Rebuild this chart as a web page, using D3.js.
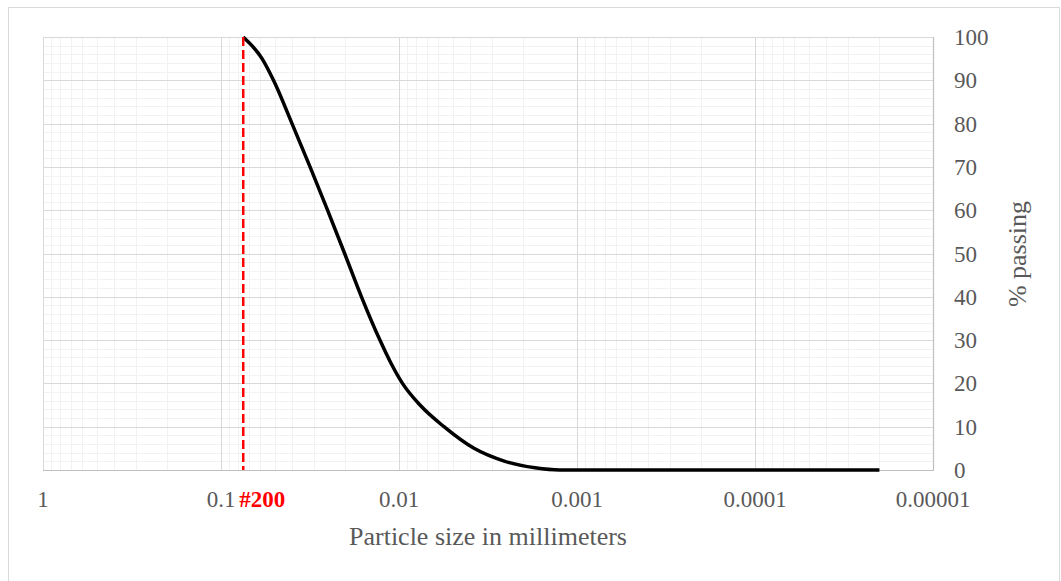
<!DOCTYPE html>
<html>
<head>
<meta charset="utf-8">
<script src="https://cdn.jsdelivr.net/npm/d3@7"></script>
<style>
  html, body { margin: 0; padding: 0; background: #fff; }
  svg { display: block; }
  text { font-family: "Liberation Serif", "Times New Roman", serif; }
</style>
</head>
<body>
<svg id="chart" width="1061" height="581"></svg>
<script>
// Grain-size distribution: particle size (mm) vs. percent passing
const sizes   = [0.075, 0.0588, 0.0507, 0.0399, 0.0316, 0.0252, 0.0202, 0.01625, 0.0128, 0.0112, 0.00956, 0.00762, 0.00559, 0.00379, 0.00254, 0.00172, 0.00125, 0.00002];
const passing = [100,   95,     90,     80,     70,     60,     50,     40,      30,     25,     20,      15,      10,      5,       2,       0.5,     0,       0];

// #200 sieve opening (mm)
const sieveSize = 0.075;
const sieveLabel = "#200";

const xTickValues = [1, 0.1, 0.01, 0.001, 0.0001, 0.00001];
const xTickLabels = ["1", "0.1", "0.01", "0.001", "0.0001", "0.00001"];
const yTickValues = [0, 10, 20, 30, 40, 50, 60, 70, 80, 90, 100];

const xTitle = "Particle size in millimeters";
const yTitle = "% passing";

const svg = d3.select("#chart");
const plot = { left: 43, right: 933, top: 37, bottom: 470 };

// chart frame
svg.append("rect")
  .attr("x", 8.5).attr("y", 7.5)
  .attr("width", 1051).attr("height", 600)
  .attr("fill", "#fff").attr("stroke", "#d9d9d9").attr("stroke-width", 1);

// reversed log scale: coarse on the left, fine on the right
const x = d3.scaleLog().domain([1, 0.00001]).range([plot.left, plot.right]);
const y = d3.scaleLinear().domain([0, 100]).range([plot.bottom, plot.top]);

const grid = svg.append("g");

// minor vertical gridlines (2..9 within each decade)
const minorX = [];
for (let e = 0; e > -5; e--) {
  for (let k = 2; k <= 9; k++) minorX.push(k * Math.pow(10, e - 1));
}
grid.selectAll(".vminor").data(minorX).join("line")
  .attr("x1", d => Math.round(x(d)) + 0.5).attr("x2", d => Math.round(x(d)) + 0.5)
  .attr("y1", plot.top).attr("y2", plot.bottom)
  .attr("stroke", "#f2f2f2").attr("stroke-width", 1);

// minor horizontal gridlines (every 2%)
const minorY = d3.range(0, 101, 2).filter(v => v % 10 !== 0);
grid.selectAll(".hminor").data(minorY).join("line")
  .attr("x1", plot.left).attr("x2", plot.right)
  .attr("y1", d => Math.round(y(d)) + 0.5).attr("y2", d => Math.round(y(d)) + 0.5)
  .attr("stroke", "#f2f2f2").attr("stroke-width", 1);

// major vertical gridlines at decades
grid.selectAll(".vmajor").data(xTickValues.slice(0, -1)).join("line")
  .attr("x1", d => Math.round(x(d)) + 0.5).attr("x2", d => Math.round(x(d)) + 0.5)
  .attr("y1", plot.top).attr("y2", plot.bottom)
  .attr("stroke", "#d9d9d9").attr("stroke-width", 1);

// major horizontal gridlines
grid.selectAll(".hmajor").data(yTickValues.filter(v => v > 0)).join("line")
  .attr("x1", plot.left).attr("x2", plot.right)
  .attr("y1", d => Math.round(y(d)) + 0.5).attr("y2", d => Math.round(y(d)) + 0.5)
  .attr("stroke", "#d9d9d9").attr("stroke-width", 1);

// axis lines (bottom and right)
svg.append("line")
  .attr("x1", plot.left).attr("x2", plot.right + 0.5)
  .attr("y1", plot.bottom + 0.5).attr("y2", plot.bottom + 0.5)
  .attr("stroke", "#bfbfbf").attr("stroke-width", 1.2);
svg.append("line")
  .attr("x1", plot.right + 0.5).attr("x2", plot.right + 0.5)
  .attr("y1", plot.top).attr("y2", plot.bottom + 0.5)
  .attr("stroke", "#bfbfbf").attr("stroke-width", 1.2);

// x tick labels
svg.append("g").selectAll("text").data(xTickValues).join("text")
  .attr("x", d => x(d)).attr("y", 507)
  .attr("text-anchor", "middle")
  .attr("font-size", 23).attr("fill", "#595959")
  .text((d, i) => xTickLabels[i]);

// y tick labels on the right
svg.append("g").selectAll("text").data(yTickValues).join("text")
  .attr("x", 954).attr("y", d => y(d) + 8)
  .attr("text-anchor", "start")
  .attr("font-size", 23).attr("fill", "#595959")
  .text(d => d);

// axis titles
svg.append("text")
  .attr("x", (plot.left + plot.right) / 2).attr("y", 545)
  .attr("text-anchor", "middle")
  .attr("font-size", 26).attr("fill", "#595959")
  .text(xTitle);

svg.append("text")
  .attr("transform", "translate(1026,254) rotate(-90)")
  .attr("text-anchor", "middle")
  .attr("font-size", 26).attr("fill", "#595959")
  .text(yTitle);

// gradation curve
const data = sizes.map((s, i) => ({ s, p: passing[i] }));
const line = d3.line()
  .x(d => x(d.s)).y(d => y(d.p))
  .curve(d3.curveMonotoneX);

svg.append("path")
  .datum(data)
  .attr("d", line)
  .attr("fill", "none")
  .attr("stroke", "#000")
  .attr("stroke-width", 3.5)
  .attr("stroke-linejoin", "round");

// #200 sieve marker
svg.append("line")
  .attr("x1", x(sieveSize)).attr("x2", x(sieveSize))
  .attr("y1", y(100)).attr("y2", y(0))
  .attr("stroke", "#ff0000").attr("stroke-width", 2.5)
  .attr("stroke-dasharray", "9,4");

svg.append("text")
  .attr("x", x(sieveSize) - 4).attr("y", 507)
  .attr("text-anchor", "start")
  .attr("font-size", 23).attr("font-weight", "bold").attr("fill", "#ff0000")
  .text(sieveLabel);
</script>
</body>
</html>
